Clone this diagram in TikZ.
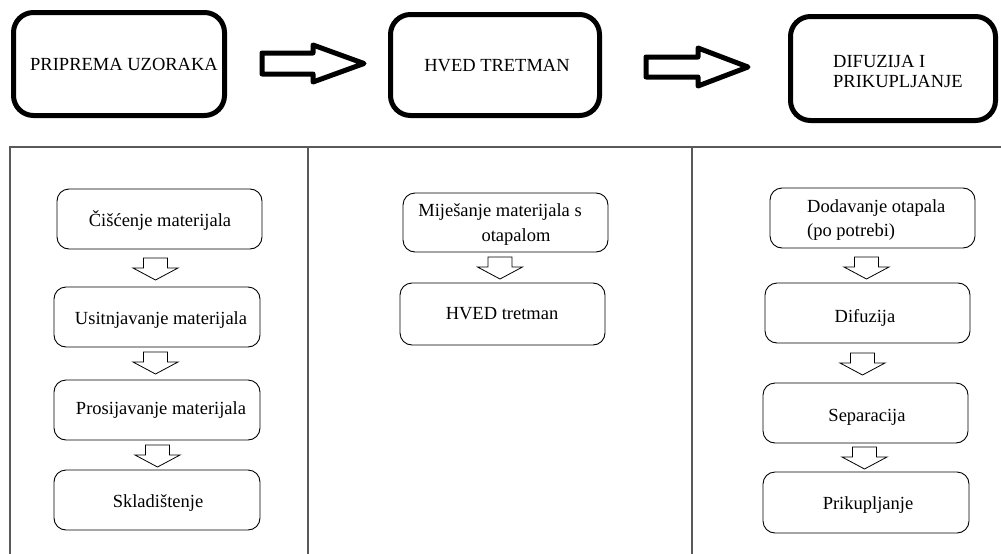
\documentclass[tikz,border=0pt]{standalone}
\usepackage{fontspec}
\setmainfont{Liberation Serif}
\begin{document}
\begin{tikzpicture}[x=1pt,y=-1pt,
  bigbox/.style={draw, line width=5pt, rounded corners=20pt, inner sep=0},
  smallbox/.style={draw, line width=0.9pt, rounded corners=12pt, inner sep=0},
  lbl/.style={font=\fontsize{18.5}{20}\selectfont, inner sep=0},
  bigarrow/.style={draw, line width=5pt, line join=round},
  tableline/.style={draw=black!65, line width=1.3pt},
  darr/.pic={\draw[line width=0.8pt] (-12,0) -- (12,0) -- (12,10) -- (22.5,10) -- (0,22) -- (-22.5,10) -- (-12,10) -- cycle;}]
\useasboundingbox (0,0) rectangle (1001,554);
% top row
\node[bigbox, minimum width=211pt, minimum height=103pt] (b1) at (119,64) {};
\node[lbl] (t1) at (124,64) {PRIPREMA UZORAKA};
\node[bigbox, minimum width=209pt, minimum height=101pt] (b2) at (495,65) {};
\node[lbl] (t2) at (497,66) {HVED TRETMAN};
\node[bigbox, minimum width=205pt, minimum height=104pt] (b3) at (893,68.5) {};
\node[lbl, anchor=west] (t3a) at (833,61) {DIFUZIJA I};
\node[lbl, anchor=west] (t3b) at (833,81) {PRIKUPLJANJE};
\draw[bigarrow] (262,53) -- (313,53) -- (313,45) -- (364,63.5) -- (313,82) -- (313,74) -- (262,74) -- cycle;
\draw[bigarrow] (646,57) -- (698,57) -- (698,48) -- (748,67) -- (698,86) -- (698,77) -- (646,77) -- cycle;
% table
\draw[tableline] (10,570) -- (10,147) -- (1005,147);
\draw[tableline] (308,147) -- (308,570);
\draw[tableline] (692,147) -- (692,570);
% left column
\node[smallbox, minimum width=205pt, minimum height=60pt] (l1) at (159.5,219) {};
\node[lbl] (lt1) at (160,221) {Čišćenje materijala};
\node[smallbox, minimum width=206pt, minimum height=60pt] (l2) at (157,317) {};
\node[lbl] (lt2) at (161,320) {Usitnjavanje materijala};
\node[smallbox, minimum width=206pt, minimum height=60pt] (l3) at (157,410) {};
\node[lbl] (lt3) at (161,410) {Prosijavanje materijala};
\node[smallbox, minimum width=206pt, minimum height=60pt] (l4) at (157,500) {};
\node[lbl] (lt4) at (158,503) {Skladištenje};
\pic at (155.5,258) {darr};
\pic at (155.5,352) {darr};
\pic at (157.5,445) {darr};
% middle column
\node[smallbox, minimum width=205pt, minimum height=59pt] (m1) at (505.5,222.5) {};
\node[lbl] (mt1a) at (500,212) {Miješanje materijala s};
\node[lbl] (mt1b) at (516,237) {otapalom};
\node[smallbox, minimum width=205pt, minimum height=62pt] (m2) at (502.5,314) {};
\node[lbl] (mt2) at (502,314) {HVED tretman};
\pic at (500,257) {darr};
% right column
\node[smallbox, minimum width=205pt, minimum height=60pt] (r1) at (872.5,218) {};
\node[lbl, anchor=west] (rt1a) at (807,208) {Dodavanje otapala};
\node[lbl, anchor=west] (rt1b) at (807,232) {(po potrebi)};
\node[smallbox, minimum width=205pt, minimum height=60pt] (r2) at (867.5,313) {};
\node[lbl] (rt2) at (865,318) {Difuzija};
\node[smallbox, minimum width=205pt, minimum height=60pt] (r3) at (865.5,413) {};
\node[lbl] (rt3) at (867,417) {Separacija};
\node[smallbox, minimum width=206pt, minimum height=61pt] (r4) at (866,502.5) {};
\node[lbl] (rt4) at (868,505) {Prikupljanje};
\pic at (866.5,257) {darr};
\pic at (862.5,353) {darr};
\pic at (864.5,447) {darr};
\end{tikzpicture}
\end{document}
